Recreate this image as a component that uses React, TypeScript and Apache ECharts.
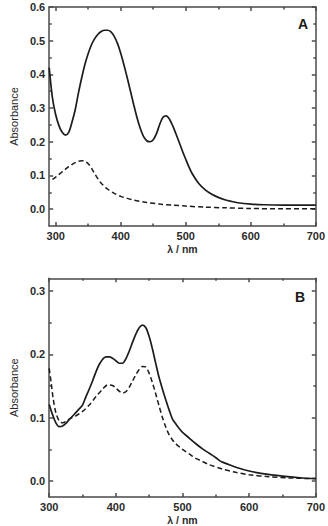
import React, { useEffect, useRef } from "react";
import * as echarts from "echarts";

// Tick positions shared by both panels
const xTicksMajor = [300, 400, 500, 600, 700];
const xTicksMinor = [350, 450, 550, 650];
const yTicksMajorA = [0, 0.1, 0.2, 0.3, 0.4, 0.5, 0.6];
const yTicksMinorA = [0.05, 0.15, 0.25, 0.35, 0.45, 0.55];
const yTicksMajorB = [0, 0.1, 0.2, 0.3];
const yTicksMinorB = [0.05, 0.15, 0.25];

// Panel A spectra: [wavelength nm, absorbance]
const spectrumASolid: [number, number][] = [
  [290, 0.42], [295, 0.33], [300, 0.28], [305, 0.248], [310, 0.228], [315, 0.22],
  [320, 0.228], [325, 0.258], [330, 0.295], [335, 0.345], [340, 0.39], [345, 0.43],
  [350, 0.462], [355, 0.488], [360, 0.506], [365, 0.519], [370, 0.527], [375, 0.531],
  [380, 0.531], [385, 0.526], [390, 0.513], [395, 0.492], [400, 0.463], [405, 0.428],
  [410, 0.39], [415, 0.35], [420, 0.31], [425, 0.272], [430, 0.24], [435, 0.216],
  [440, 0.203], [445, 0.2], [450, 0.206], [455, 0.224], [460, 0.252], [465, 0.273],
  [470, 0.277], [475, 0.267], [480, 0.247], [485, 0.223], [490, 0.198], [495, 0.172],
  [500, 0.148], [505, 0.125], [510, 0.105], [520, 0.076], [530, 0.057], [540, 0.044],
  [550, 0.035], [560, 0.028], [570, 0.023], [580, 0.019], [600, 0.015], [620, 0.013],
  [650, 0.012], [700, 0.012],
];
const spectrumADashed: [number, number][] = [
  [295, 0.088], [300, 0.095], [305, 0.103], [310, 0.111], [320, 0.126], [330, 0.138],
  [335, 0.142], [340, 0.144], [345, 0.142], [350, 0.135], [355, 0.122], [360, 0.105],
  [365, 0.09], [370, 0.077], [380, 0.059], [390, 0.047], [400, 0.038], [410, 0.032],
  [420, 0.027], [440, 0.02], [460, 0.015], [480, 0.012], [500, 0.009], [530, 0.006],
  [560, 0.004], [600, 0.002], [650, 0.001], [700, 0.001],
];

// Panel B spectra
const spectrumBSolid: [number, number][] = [
  [300, 0.121], [305, 0.105], [310, 0.092], [315, 0.086], [320, 0.087], [325, 0.091],
  [330, 0.097], [338, 0.106], [345, 0.114], [350, 0.12], [355, 0.133], [360, 0.145],
  [365, 0.158], [370, 0.172], [375, 0.184], [380, 0.192], [385, 0.196], [390, 0.196],
  [395, 0.194], [400, 0.19], [405, 0.186], [410, 0.186], [415, 0.193], [420, 0.205],
  [425, 0.219], [430, 0.232], [435, 0.242], [440, 0.246], [445, 0.242], [450, 0.228],
  [455, 0.208], [460, 0.185], [465, 0.163], [470, 0.145], [475, 0.128], [480, 0.112],
  [485, 0.098], [490, 0.09], [495, 0.083], [500, 0.077], [510, 0.068], [520, 0.059],
  [530, 0.051], [540, 0.044], [550, 0.037], [556, 0.032], [560, 0.03], [570, 0.026],
  [580, 0.022], [600, 0.016], [620, 0.012], [650, 0.008], [680, 0.005], [700, 0.004],
];
const spectrumBDashed: [number, number][] = [
  [300, 0.178], [303, 0.155], [306, 0.13], [310, 0.108], [315, 0.095], [320, 0.092],
  [325, 0.094], [330, 0.098], [340, 0.103], [350, 0.11], [360, 0.12], [370, 0.133],
  [380, 0.145], [388, 0.152], [395, 0.151], [400, 0.147], [405, 0.142], [410, 0.139],
  [415, 0.141], [420, 0.148], [425, 0.158], [430, 0.168], [435, 0.176], [440, 0.181],
  [445, 0.18], [450, 0.17], [455, 0.155], [460, 0.137], [465, 0.118], [470, 0.1],
  [475, 0.085], [480, 0.073], [485, 0.065], [490, 0.059], [500, 0.05], [510, 0.043],
  [520, 0.036], [530, 0.031], [540, 0.026], [560, 0.019], [580, 0.014], [600, 0.01],
  [630, 0.007], [660, 0.005], [700, 0.004],
];

const FONT = "'Liberation Sans', Arial, sans-serif";
const AXIS_COLOR = "#4a4a4a";
const TEXT_COLOR = "#2b2b2b";
const LINE_COLOR = "#1c1c1c";

const axisLineStyle = { color: AXIS_COLOR, width: 1.5 };

function xAxes(gridIndex: number, min: number, max: number) {
  const base = {
    type: "value" as const,
    gridIndex,
    min,
    max,
    splitLine: { show: false },
  };
  return [
    {
      ...base,
      position: "bottom",
      axisLine: { show: true, onZero: false, lineStyle: axisLineStyle },
      axisTick: { show: true, inside: true, length: 4, customValues: xTicksMajor, lineStyle: axisLineStyle },
      axisLabel: {
        show: true,
        customValues: xTicksMajor,
        margin: 4,
        fontSize: 11,
        fontWeight: "bold",
        fontFamily: FONT,
        color: TEXT_COLOR,
      },
      name: "λ / nm",
      nameLocation: "middle",
      nameGap: 17,
      nameTextStyle: { fontSize: 10.5, fontWeight: "bold", fontFamily: FONT, color: TEXT_COLOR },
    },
    {
      ...base,
      position: "bottom",
      axisLine: { show: false, onZero: false },
      axisTick: { show: true, inside: true, length: 2.5, customValues: xTicksMinor, lineStyle: axisLineStyle },
      axisLabel: { show: false },
    },
    {
      ...base,
      position: "top",
      axisLine: { show: true, onZero: false, lineStyle: axisLineStyle },
      axisTick: { show: true, inside: true, length: 4, customValues: xTicksMajor, lineStyle: axisLineStyle },
      axisLabel: { show: false },
    },
    {
      ...base,
      position: "top",
      axisLine: { show: false, onZero: false },
      axisTick: { show: true, inside: true, length: 2.5, customValues: xTicksMinor, lineStyle: axisLineStyle },
      axisLabel: { show: false },
    },
  ];
}

function yAxes(gridIndex: number, min: number, max: number, major: number[], minor: number[]) {
  const base = {
    type: "value" as const,
    gridIndex,
    min,
    max,
    splitLine: { show: false },
  };
  return [
    {
      ...base,
      position: "left",
      axisLine: { show: true, onZero: false, lineStyle: axisLineStyle },
      axisTick: { show: true, inside: true, length: 4, customValues: major, lineStyle: axisLineStyle },
      axisLabel: {
        show: true,
        customValues: major,
        margin: 4,
        fontSize: 11,
        fontWeight: "bold",
        fontFamily: FONT,
        color: TEXT_COLOR,
        formatter: (v: number) => v.toFixed(1),
      },
      name: "Absorbance",
      nameLocation: "middle",
      nameGap: 26,
      nameTextStyle: { fontSize: 11, fontFamily: FONT, color: TEXT_COLOR },
    },
    {
      ...base,
      position: "left",
      axisLine: { show: false, onZero: false },
      axisTick: { show: true, inside: true, length: 2.5, customValues: minor, lineStyle: axisLineStyle },
      axisLabel: { show: false },
    },
    {
      ...base,
      position: "right",
      axisLine: { show: true, onZero: false, lineStyle: axisLineStyle },
      axisTick: { show: true, inside: true, length: 4, customValues: major, lineStyle: axisLineStyle },
      axisLabel: { show: false },
    },
    {
      ...base,
      position: "right",
      axisLine: { show: false, onZero: false },
      axisTick: { show: true, inside: true, length: 2.5, customValues: minor, lineStyle: axisLineStyle },
      axisLabel: { show: false },
    },
  ];
}

function lineSeries(data: [number, number][], xi: number, yi: number, dashed: boolean) {
  return {
    type: "line",
    xAxisIndex: xi,
    yAxisIndex: yi,
    data,
    showSymbol: false,
    smooth: 0.3,
    silent: true,
    lineStyle: {
      color: LINE_COLOR,
      width: dashed ? 1.5 : 1.7,
      type: dashed ? [5, 3] : "solid",
    },
  };
}

export default function App() {
  const ref = useRef<HTMLDivElement>(null);

  useEffect(() => {
    if (!ref.current) return;
    const chart = echarts.init(ref.current, undefined, { renderer: "svg" });
    chart.setOption({
      animation: false,
      backgroundColor: "#ffffff",
      grid: [
        { left: 40.7, top: 7, width: 279.3, height: 219 },
        { left: 40, top: 278.3, width: 278.5, height: 219.2 },
      ],
      xAxis: [...xAxes(0, 290, 700), ...xAxes(1, 300, 700)],
      yAxis: [
        ...yAxes(0, -0.05, 0.6, yTicksMajorA, yTicksMinorA),
        ...yAxes(1, -0.025, 0.32, yTicksMajorB, yTicksMinorB),
      ],
      series: [
        lineSeries(spectrumASolid, 0, 0, false),
        lineSeries(spectrumADashed, 0, 0, true),
        lineSeries(spectrumBSolid, 4, 4, false),
        lineSeries(spectrumBDashed, 4, 4, true),
      ],
      graphic: [
        {
          type: "text",
          x: 303,
          y: 24,
          silent: true,
          style: {
            text: "A",
            fontSize: 14,
            fontWeight: "bold",
            fontFamily: FONT,
            fill: "#1a1a1a",
            align: "center",
            verticalAlign: "middle",
          },
        },
        {
          type: "text",
          x: 300,
          y: 297,
          silent: true,
          style: {
            text: "B",
            fontSize: 14,
            fontWeight: "bold",
            fontFamily: FONT,
            fill: "#1a1a1a",
            align: "center",
            verticalAlign: "middle",
          },
        },
      ],
    });
    return () => chart.dispose();
  }, []);

  return (
    <div
      ref={ref}
      style={{ position: "absolute", left: 0, top: 0, width: 328, height: 526, background: "#fff" }}
    />
  );
}
